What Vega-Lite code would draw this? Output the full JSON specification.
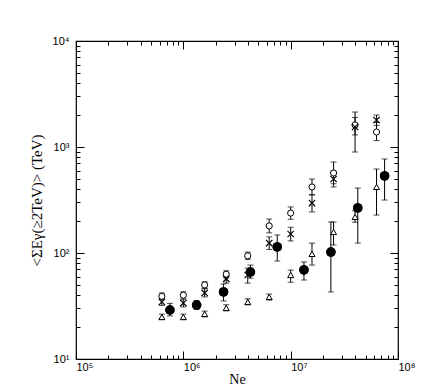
{
  "$schema": "https://vega.github.io/schema/vega-lite/v6.json",
  "width": 322,
  "height": 318,
  "autosize": "none",
  "padding": {"left": 76, "top": 41, "right": 32, "bottom": 31},
  "background": "white",
  "config": {
    "view": {"stroke": "black", "strokeWidth": 1.2, "fill": "transparent"},
    "axis": {"domain": false, "ticks": false, "zindex": 1, "labelColor": "black", "titleColor": "black", "labelFont": "Liberation Sans", "labelFontSize": 11, "titleFont": "Liberation Serif", "titleFontSize": 15, "titleFontWeight": "normal"}
  },
  "data": {"values": [
    {"s": "circle", "Ne": 631000, "v": 39, "lo": 36.5, "hi": 42},
    {"s": "circle", "Ne": 1000000, "v": 40, "lo": 37.5, "hi": 43},
    {"s": "circle", "Ne": 1580000, "v": 50, "lo": 46.5, "hi": 53.5},
    {"s": "circle", "Ne": 2510000, "v": 63, "lo": 58, "hi": 68},
    {"s": "circle", "Ne": 3980000, "v": 94, "lo": 87, "hi": 102},
    {"s": "circle", "Ne": 6310000, "v": 180, "lo": 155, "hi": 209},
    {"s": "circle", "Ne": 10000000, "v": 238, "lo": 208, "hi": 272},
    {"s": "circle", "Ne": 15800000, "v": 420, "lo": 353, "hi": 499},
    {"s": "circle", "Ne": 25100000, "v": 569, "lo": 450, "hi": 722},
    {"s": "circle", "Ne": 39800000, "v": 1614, "lo": 1300, "hi": 2138},
    {"s": "circle", "Ne": 63100000, "v": 1386, "lo": 1150, "hi": 1700},
    {"s": "cross", "Ne": 631000, "v": 34.5, "lo": 32, "hi": 37},
    {"s": "cross", "Ne": 1000000, "v": 33.7, "lo": 31, "hi": 36.5},
    {"s": "cross", "Ne": 1580000, "v": 42, "lo": 38.5, "hi": 46},
    {"s": "cross", "Ne": 2510000, "v": 57, "lo": 52, "hi": 63},
    {"s": "cross", "Ne": 3980000, "v": 62, "lo": 52, "hi": 72},
    {"s": "cross", "Ne": 6310000, "v": 124, "lo": 108, "hi": 142},
    {"s": "cross", "Ne": 10000000, "v": 151, "lo": 130, "hi": 175},
    {"s": "cross", "Ne": 15800000, "v": 296, "lo": 244, "hi": 355},
    {"s": "cross", "Ne": 25100000, "v": 499, "lo": 420, "hi": 590},
    {"s": "cross", "Ne": 39800000, "v": 1545, "lo": 897, "hi": 1900},
    {"s": "cross", "Ne": 63100000, "v": 1798, "lo": 1600, "hi": 2004},
    {"s": "triangle", "Ne": 631000, "v": 24.9, "lo": 23.5, "hi": 26.5},
    {"s": "triangle", "Ne": 1000000, "v": 24.9, "lo": 23.5, "hi": 26.5},
    {"s": "triangle", "Ne": 1580000, "v": 26.6, "lo": 25, "hi": 28.3},
    {"s": "triangle", "Ne": 2510000, "v": 30.3, "lo": 28.5, "hi": 32.5},
    {"s": "triangle", "Ne": 3980000, "v": 34.5, "lo": 32.5, "hi": 37},
    {"s": "triangle", "Ne": 6310000, "v": 38.5, "lo": 36, "hi": 41},
    {"s": "triangle", "Ne": 10000000, "v": 62, "lo": 53, "hi": 69},
    {"s": "triangle", "Ne": 15800000, "v": 98, "lo": 77, "hi": 124},
    {"s": "triangle", "Ne": 25100000, "v": 158, "lo": 119, "hi": 196},
    {"s": "triangle", "Ne": 39800000, "v": 219, "lo": 195, "hi": 250},
    {"s": "triangle", "Ne": 63100000, "v": 420, "lo": 228, "hi": 620},
    {"s": "filled", "Ne": 750000, "v": 29, "lo": 25.5, "hi": 33.5},
    {"s": "filled", "Ne": 1330000, "v": 32.3, "lo": 29.5, "hi": 35.5},
    {"s": "filled", "Ne": 2370000, "v": 42.9, "lo": 35.3, "hi": 51},
    {"s": "filled", "Ne": 4220000, "v": 66.2, "lo": 58, "hi": 77},
    {"s": "filled", "Ne": 7500000, "v": 114, "lo": 84, "hi": 148},
    {"s": "filled", "Ne": 13300000, "v": 69.2, "lo": 55.6, "hi": 82.3},
    {"s": "filled", "Ne": 23700000, "v": 102, "lo": 42.9, "hi": 196},
    {"s": "filled", "Ne": 42200000, "v": 266, "lo": 124, "hi": 410},
    {"s": "filled", "Ne": 75000000, "v": 533, "lo": 316, "hi": 771}
  ]},
  "resolve": {"axis": {"x": "independent", "y": "independent"}},
  "layer": [
    {
      "transform": [{"filter": "datum.s == 'filled'"}],
      "mark": {"type": "point", "shape": "circle", "filled": true, "color": "black", "size": 90, "opacity": 1},
      "encoding": {
        "x": {"field": "Ne", "type": "quantitative", "scale": {"type": "log", "domain": [100000, 100000000], "nice": false},
          "axis": {"orient": "bottom", "values": [100000, 200000, 300000, 400000, 500000, 600000, 700000, 800000, 900000, 1000000, 2000000, 3000000, 4000000, 5000000, 6000000, 7000000, 8000000, 9000000, 10000000, 20000000, 30000000, 40000000, 50000000, 60000000, 70000000, 80000000, 90000000, 100000000],
            "grid": true, "gridColor": "black", "gridOpacity": 1, "gridWidth": 1,
            "gridDash": {"condition": {"test": "indexof([100000, 1000000, 10000000, 100000000], datum.value) >= 0", "value": [8, 302]}, "value": [4, 310]},
            "labelPadding": 2, "labelAlign": "left", "labelOffset": 0,
            "labelExpr": "datum.value == 100000 ? '10⁵' : datum.value == 1000000 ? '10⁶' : datum.value == 10000000 ? '10⁷' : datum.value == 100000000 ? '10⁸' : ''",
            "title": "Ne", "titlePadding": 0, "titleFontSize": 14}},
        "y": {"field": "v", "type": "quantitative", "scale": {"type": "log", "domain": [10, 10000], "nice": false},
          "axis": {"orient": "left", "values": [10, 20, 30, 40, 50, 60, 70, 80, 90, 100, 200, 300, 400, 500, 600, 700, 800, 900, 1000, 2000, 3000, 4000, 5000, 6000, 7000, 8000, 9000, 10000],
            "grid": true, "gridColor": "black", "gridOpacity": 1, "gridWidth": 1,
            "gridDash": {"condition": {"test": "indexof([10, 100, 1000, 10000], datum.value) >= 0", "value": [8, 306]}, "value": [4, 314]},
            "labelPadding": 7, "labelBaseline": "middle",
            "labelExpr": "datum.value == 10 ? '10¹' : datum.value == 100 ? '10²' : datum.value == 1000 ? '10³' : datum.value == 10000 ? '10⁴' : ''",
            "title": "<ΣEγ(≥2TeV)> (TeV)", "titlePadding": 8}}
      }
    },
    {
      "mark": {"type": "errorbar", "ticks": true, "size": 6, "thickness": 1, "color": "black"},
      "encoding": {
        "x": {"field": "Ne", "type": "quantitative", "scale": {"type": "log", "domain": [100000, 100000000], "nice": false}, "axis": null},
        "y": {"field": "lo", "type": "quantitative", "scale": {"type": "log", "domain": [10, 10000], "nice": false}, "axis": null},
        "y2": {"field": "hi"}
      }
    },
    {
      "transform": [{"filter": "datum.s == 'circle'"}],
      "mark": {"type": "point", "shape": "circle", "filled": true, "fill": "white", "stroke": "black", "strokeWidth": 1, "size": 38, "opacity": 1},
      "encoding": {
        "x": {"field": "Ne", "type": "quantitative", "scale": {"type": "log", "domain": [100000, 100000000], "nice": false}, "axis": null},
        "y": {"field": "v", "type": "quantitative", "scale": {"type": "log", "domain": [10, 10000], "nice": false}, "axis": null}
      }
    },
    {
      "transform": [{"filter": "datum.s == 'cross'"}],
      "mark": {"type": "point", "shape": "M-1,-1L1,1M1,-1L-1,1", "filled": false, "stroke": "black", "strokeWidth": 1.2, "size": 40, "opacity": 1},
      "encoding": {
        "x": {"field": "Ne", "type": "quantitative", "scale": {"type": "log", "domain": [100000, 100000000], "nice": false}, "axis": null},
        "y": {"field": "v", "type": "quantitative", "scale": {"type": "log", "domain": [10, 10000], "nice": false}, "axis": null}
      }
    },
    {
      "transform": [{"filter": "datum.s == 'triangle'"}],
      "mark": {"type": "point", "shape": "triangle-up", "filled": true, "fill": "white", "stroke": "black", "strokeWidth": 1, "size": 36, "opacity": 1},
      "encoding": {
        "x": {"field": "Ne", "type": "quantitative", "scale": {"type": "log", "domain": [100000, 100000000], "nice": false}, "axis": null},
        "y": {"field": "v", "type": "quantitative", "scale": {"type": "log", "domain": [10, 10000], "nice": false}, "axis": null}
      }
    },
    {
      "transform": [{"filter": "datum.s == 'filled'"}],
      "mark": {"type": "point", "shape": "circle", "filled": true, "color": "black", "size": 90, "opacity": 1},
      "encoding": {
        "x": {"field": "Ne", "type": "quantitative", "scale": {"type": "log", "domain": [100000, 100000000], "nice": false}, "axis": null},
        "y": {"field": "v", "type": "quantitative", "scale": {"type": "log", "domain": [10, 10000], "nice": false}, "axis": null}
      }
    }
  ]
}
